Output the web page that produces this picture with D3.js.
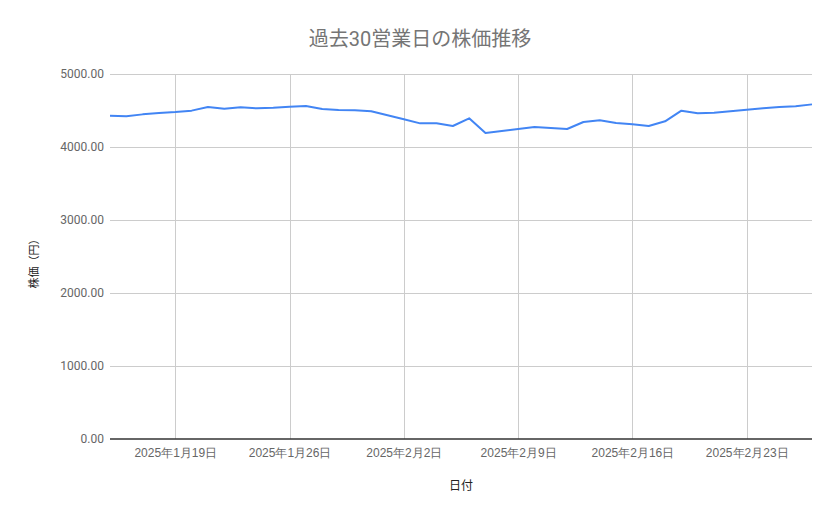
<!DOCTYPE html>
<html>
<head>
<meta charset="utf-8">
<script src="https://cdn.jsdelivr.net/npm/d3@7"></script>
<style>
  body { margin: 0; background: #fff; }
  svg { font-family: Roboto, "Noto Sans CJK JP", sans-serif; }
</style>
</head>
<body>
<svg id="chart" width="839" height="519"></svg>
<script>
var dates = [
  '2025-01-15', '2025-01-16', '2025-01-17', '2025-01-18', '2025-01-19', '2025-01-20',
  '2025-01-21', '2025-01-22', '2025-01-23', '2025-01-24', '2025-01-25', '2025-01-26',
  '2025-01-27', '2025-01-28', '2025-01-29', '2025-01-30', '2025-01-31', '2025-02-01',
  '2025-02-02', '2025-02-03', '2025-02-04', '2025-02-05', '2025-02-06', '2025-02-07',
  '2025-02-08', '2025-02-09', '2025-02-10', '2025-02-11', '2025-02-12', '2025-02-13',
  '2025-02-14', '2025-02-15', '2025-02-16', '2025-02-17', '2025-02-18', '2025-02-19',
  '2025-02-20', '2025-02-21', '2025-02-22', '2025-02-23', '2025-02-24', '2025-02-25',
  '2025-02-26', '2025-02-27'
];

var prices = [
  4429, 4420, 4447, 4466, 4479, 4498,
  4548, 4525, 4543, 4530, 4539, 4553,
  4562, 4521, 4507, 4505, 4489, 4434,
  4379, 4324, 4324, 4288, 4393, 4192,
  4219, 4247, 4274, 4260, 4247, 4342,
  4365, 4329, 4310, 4288, 4352, 4498,
  4461, 4470, 4489, 4511, 4530, 4548,
  4557, 4584
];

var xTicks = ['2025-01-19', '2025-01-26', '2025-02-02', '2025-02-09', '2025-02-16', '2025-02-23'];
var yTicks = [0, 1000, 2000, 3000, 4000, 5000];

var title = '過去30営業日の株価推移';
var xTitle = '日付';
var yTitle = '株価（円）';

(function draw() {

  var parse = d3.timeParse('%Y-%m-%d'),
      fmt = d3.timeFormat('%Y年%-m月%-d日');

  var data = dates.map(function (d, i) {
    return { date: parse(d), value: prices[i] };
  });

  var svg = d3.select('#chart'),
      margin = { top: 74, right: 27, bottom: 80, left: 110 },
      width = +svg.attr('width') - margin.left - margin.right,
      height = +svg.attr('height') - margin.top - margin.bottom,
      g = svg.append('g').attr('transform', 'translate(' + margin.left + ',' + margin.top + ')');

  var x = d3.scaleTime()
      .domain(d3.extent(data, function (d) { return d.date; }))
      .range([0, width]);

  var y = d3.scaleLinear()
      .domain([0, 5000])
      .range([height, 0]);

  // horizontal grid
  g.append('g')
      .selectAll('line')
      .data(yTicks.slice(1))
      .enter().append('line')
        .attr('x1', 0)
        .attr('x2', width)
        .attr('y1', function (d) { return y(d) + 0.5; })
        .attr('y2', function (d) { return y(d) + 0.5; })
        .attr('stroke', '#cccccc')
        .attr('stroke-width', 1);

  // vertical grid
  g.append('g')
      .selectAll('line')
      .data(xTicks.map(parse))
      .enter().append('line')
        .attr('x1', function (d) { return Math.round(x(d)) + 0.5; })
        .attr('x2', function (d) { return Math.round(x(d)) + 0.5; })
        .attr('y1', 0)
        .attr('y2', height)
        .attr('stroke', '#cccccc')
        .attr('stroke-width', 1);

  // y axis labels
  var yAxis = g.append('g')
      .call(d3.axisLeft(y).tickValues(yTicks).tickSize(0).tickPadding(6).tickFormat(d3.format('.2f')));
  yAxis.select('.domain').remove();
  yAxis.selectAll('text')
      .attr('fill', '#666666')
      .attr('font-size', 12)
      .attr('font-family', 'Roboto, sans-serif');

  // x axis labels
  var xAxis = g.append('g')
      .attr('transform', 'translate(0,' + height + ')')
      .call(d3.axisBottom(x).tickValues(xTicks.map(parse)).tickSize(0).tickPadding(9).tickFormat(fmt));
  xAxis.select('.domain').remove();
  xAxis.selectAll('text')
      .attr('fill', '#666666')
      .attr('font-size', 12);

  // line
  g.append('path')
      .datum(data)
      .attr('fill', 'none')
      .attr('stroke', '#4285f4')
      .attr('stroke-width', 2)
      .attr('stroke-linejoin', 'round')
      .attr('d', d3.line()
        .x(function (d) { return x(d.date); })
        .y(function (d) { return y(d.value); }));

  // baseline
  g.append('line')
      .attr('x1', 0)
      .attr('x2', width)
      .attr('y1', y(0))
      .attr('y2', y(0))
      .attr('stroke', '#333333')
      .attr('stroke-width', 1.5);

  svg.append('text')
      .attr('x', 420)
      .attr('y', 46)
      .attr('text-anchor', 'middle')
      .attr('font-size', 20)
      .attr('fill', '#757575')
      .text(title);

  svg.append('text')
      .attr('x', margin.left + width / 2)
      .attr('y', 490)
      .attr('text-anchor', 'middle')
      .attr('font-size', 12)
      .attr('fill', '#222222')
      .text(xTitle);

  svg.append('text')
      .attr('transform', 'translate(38,261) rotate(-90)')
      .attr('text-anchor', 'middle')
      .attr('font-size', 11)
      .attr('fill', '#222222')
      .text(yTitle);
})();
</script>
</body>
</html>
